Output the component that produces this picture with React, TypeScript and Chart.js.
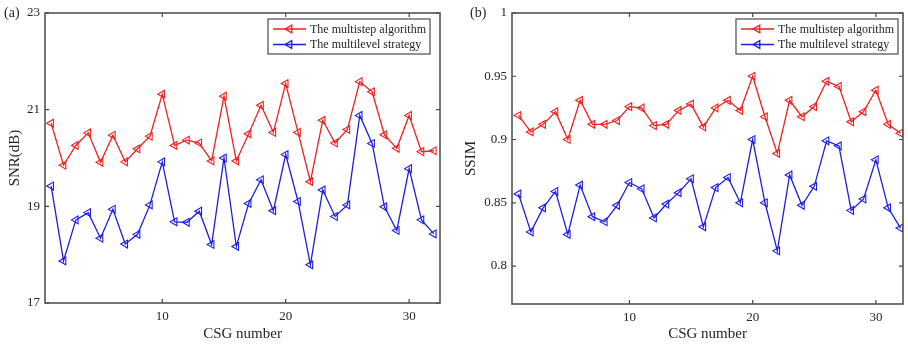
import React, { useEffect, useRef } from "react";
import { Chart, registerables } from "chart.js";

Chart.register(...registerables);

const csgNumbers = [1, 2, 3, 4, 5, 6, 7, 8, 9, 10, 11, 12, 13, 14, 15, 16, 17, 18, 19, 20, 21, 22, 23, 24, 25, 26, 27, 28, 29, 30, 31, 32];
const seriesLabels = ["The multistep algorithm", "The multilevel strategy"];

const snrMultistep = [20.72, 19.85, 20.26, 20.52, 19.91, 20.47, 19.92, 20.19, 20.45, 21.32, 20.26, 20.37, 20.31, 19.94, 21.28, 19.94, 20.5, 21.09, 20.53, 21.54, 20.53, 19.51, 20.78, 20.31, 20.59, 21.58, 21.37, 20.48, 20.2, 20.88, 20.13, 20.15];
const snrMultilevel = [19.42, 17.87, 18.72, 18.87, 18.34, 18.94, 18.22, 18.42, 19.03, 19.92, 18.68, 18.67, 18.9, 18.21, 20.0, 18.17, 19.06, 19.55, 18.91, 20.07, 19.1, 17.79, 19.34, 18.79, 19.03, 20.88, 20.3, 18.99, 18.5, 19.78, 18.72, 18.43];

const ssimMultistep = [0.919, 0.906, 0.912, 0.922, 0.9, 0.931, 0.912, 0.912, 0.915, 0.926, 0.925, 0.911, 0.912, 0.923, 0.928, 0.91, 0.925, 0.931, 0.923, 0.95, 0.918, 0.889, 0.931, 0.918, 0.926, 0.946, 0.942, 0.914, 0.922, 0.939, 0.912, 0.905];
const ssimMultilevel = [0.857, 0.827, 0.846, 0.859, 0.825, 0.864, 0.839, 0.835, 0.848, 0.866, 0.861, 0.838, 0.849, 0.858, 0.869, 0.831, 0.862, 0.87, 0.85, 0.9, 0.85, 0.812, 0.872, 0.848, 0.863, 0.899, 0.895, 0.844, 0.853, 0.884, 0.846, 0.83];

const xTicks = [10, 20, 30];
const snrTicks = [17, 19, 21, 23];
const ssimTicks = [0.8, 0.85, 0.9, 0.95, 1];

const FONT = '"Liberation Serif", "Times New Roman", serif';
const TEXT = "#262626";
const AXIS = "#4a4a4a";
const RED = "rgb(238, 32, 32)";
const BLUE = "rgb(30, 30, 225)";

type PanelProps = {
  left: number;
  canvasWidth: number;
  panelLabel: string;
  labelX: number;
  yTitle: string;
  xMin: number;
  xMax: number;
  yMin: number;
  yMax: number;
  yTicks: number[];
  s1: number[];
  s2: number[];
  yAxisWidth: number;
  padRight: number;
  xAxisHeight: number;
  yTitlePad: number;
  legendGap: number;
};

function drawTri(ctx: CanvasRenderingContext2D, x: number, y: number, r: number) {
  ctx.beginPath();
  ctx.moveTo(x - r, y);
  ctx.lineTo(x + r * 0.5, y - r * 0.866);
  ctx.lineTo(x + r * 0.5, y + r * 0.866);
  ctx.closePath();
  ctx.stroke();
}

function Panel(p: PanelProps) {
  const ref = useRef<HTMLCanvasElement | null>(null);
  useEffect(() => {
    if (!ref.current) return;
    const framePlugin = {
      id: "frame",
      afterDraw(chart: any) {
        const { ctx, chartArea: a, scales } = chart;
        ctx.save();
        ctx.strokeStyle = AXIS;
        ctx.lineWidth = 1.5;
        ctx.strokeRect(a.left, a.top, a.right - a.left, a.bottom - a.top);
        ctx.lineWidth = 1.2;
        const tl = 4;
        ctx.beginPath();
        for (const v of xTicks) {
          const px = scales.x.getPixelForValue(v);
          ctx.moveTo(px, a.bottom);
          ctx.lineTo(px, a.bottom - tl);
          ctx.moveTo(px, a.top);
          ctx.lineTo(px, a.top + tl);
        }
        for (const v of p.yTicks) {
          const py = scales.y.getPixelForValue(v);
          ctx.moveTo(a.left, py);
          ctx.lineTo(a.left + tl, py);
          ctx.moveTo(a.right, py);
          ctx.lineTo(a.right - tl, py);
        }
        ctx.stroke();
        ctx.fillStyle = TEXT;
        ctx.font = `14px ${FONT}`;
        ctx.textBaseline = "middle";
        ctx.textAlign = "left";
        ctx.fillText(p.panelLabel, p.labelX, a.top);
        const bw = 162;
        const bh = 35;
        const bx = a.right - p.legendGap - bw;
        const by = a.top + 6;
        ctx.fillStyle = "#ffffff";
        ctx.fillRect(bx, by, bw, bh);
        ctx.strokeStyle = AXIS;
        ctx.lineWidth = 1.2;
        ctx.strokeRect(bx, by, bw, bh);
        ctx.font = `12px ${FONT}`;
        chart.data.datasets.forEach((ds: any, i: number) => {
          const ry = by + 10 + i * 15.5;
          ctx.strokeStyle = ds.borderColor;
          ctx.lineWidth = 1.3;
          ctx.beginPath();
          ctx.moveTo(bx + 5, ry);
          ctx.lineTo(bx + 38, ry);
          ctx.stroke();
          drawTri(ctx, bx + 21.5, ry, 4.5);
          ctx.fillStyle = TEXT;
          ctx.textAlign = "left";
          ctx.textBaseline = "middle";
          ctx.fillText(ds.label, bx + 42, ry + 0.5);
        });
        ctx.restore();
      },
    };

    const mk = (vals: number[]) => csgNumbers.map((x, i) => ({ x, y: vals[i] }));
    const dsStyle = (c: string) => ({
      borderColor: c,
      backgroundColor: "rgba(0,0,0,0)",
      borderWidth: 1.3,
      pointStyle: "triangle",
      pointRotation: -90,
      pointRadius: 4.5,
      pointBorderWidth: 1.1,
      pointBorderColor: c,
      pointBackgroundColor: "rgba(0,0,0,0)",
      tension: 0,
    });
    const chart = new Chart(ref.current, {
      type: "line",
      data: {
        datasets: [
          { label: seriesLabels[0], data: mk(p.s1), ...dsStyle(RED) },
          { label: seriesLabels[1], data: mk(p.s2), ...dsStyle(BLUE) },
        ],
      },
      options: {
        responsive: false,
        animation: false,
        devicePixelRatio: 1,
        layout: { padding: { left: 0, top: 13, right: p.padRight, bottom: 0 } },
        plugins: { legend: { display: false }, tooltip: { enabled: false } },
        scales: {
          x: {
            type: "linear",
            min: p.xMin,
            max: p.xMax,
            afterBuildTicks: (s: any) => {
              s.ticks = xTicks.map((v) => ({ value: v }));
            },
            afterFit: (s: any) => {
              s.height = p.xAxisHeight;
            },
            grid: { display: false, drawTicks: false },
            border: { display: false },
            ticks: { color: TEXT, font: { family: FONT, size: 13 }, padding: 6, maxRotation: 0 },
            title: {
              display: true,
              text: "CSG number",
              color: TEXT,
              font: { family: FONT, size: 15 },
              padding: { top: 0, bottom: 1 },
            },
          },
          y: {
            type: "linear",
            min: p.yMin,
            max: p.yMax,
            afterBuildTicks: (s: any) => {
              s.ticks = p.yTicks.map((v) => ({ value: v }));
            },
            afterFit: (s: any) => {
              s.width = p.yAxisWidth;
            },
            grid: { display: false, drawTicks: false },
            border: { display: false },
            ticks: {
              color: TEXT,
              font: { family: FONT, size: 13 },
              padding: 5,
              callback: (v: any) => String(v),
            },
            title: {
              display: true,
              text: p.yTitle,
              color: TEXT,
              font: { family: FONT, size: 15 },
              padding: { top: p.yTitlePad, bottom: 0 },
            },
          },
        },
      },
      plugins: [framePlugin],
    } as any);
    return () => chart.destroy();
  }, []);
  return (
    <div style={{ position: "absolute", left: p.left, top: 0, width: p.canvasWidth, height: 344 }}>
      <canvas ref={ref} width={p.canvasWidth} height={344} style={{ width: p.canvasWidth, height: 344, display: "block" }} />
    </div>
  );
}

export default function App() {
  return (
    <div style={{ position: "absolute", left: 0, top: 0, width: 908, height: 344, background: "#ffffff", overflow: "hidden" }}>
      <Panel
        left={0}
        canvasWidth={454}
        panelLabel="(a)"
        labelX={4}
        yTitle="SNR(dB)"
        xMin={0.5}
        xMax={32.5}
        yMin={17}
        yMax={23}
        yTicks={snrTicks}
        s1={snrMultistep}
        s2={snrMultilevel}
        yAxisWidth={45}
        padRight={14}
        xAxisHeight={41}
        yTitlePad={6}
        legendGap={10}
      />
      <Panel
        left={454}
        canvasWidth={460}
        panelLabel="(b)"
        labelX={16}
        yTitle="SSIM"
        xMin={0.47}
        xMax={32.2}
        yMin={0.77}
        yMax={1}
        yTicks={ssimTicks}
        s1={ssimMultistep}
        s2={ssimMultilevel}
        yAxisWidth={58}
        padRight={11}
        xAxisHeight={40}
        yTitlePad={8}
        legendGap={5}
      />
    </div>
  );
}
